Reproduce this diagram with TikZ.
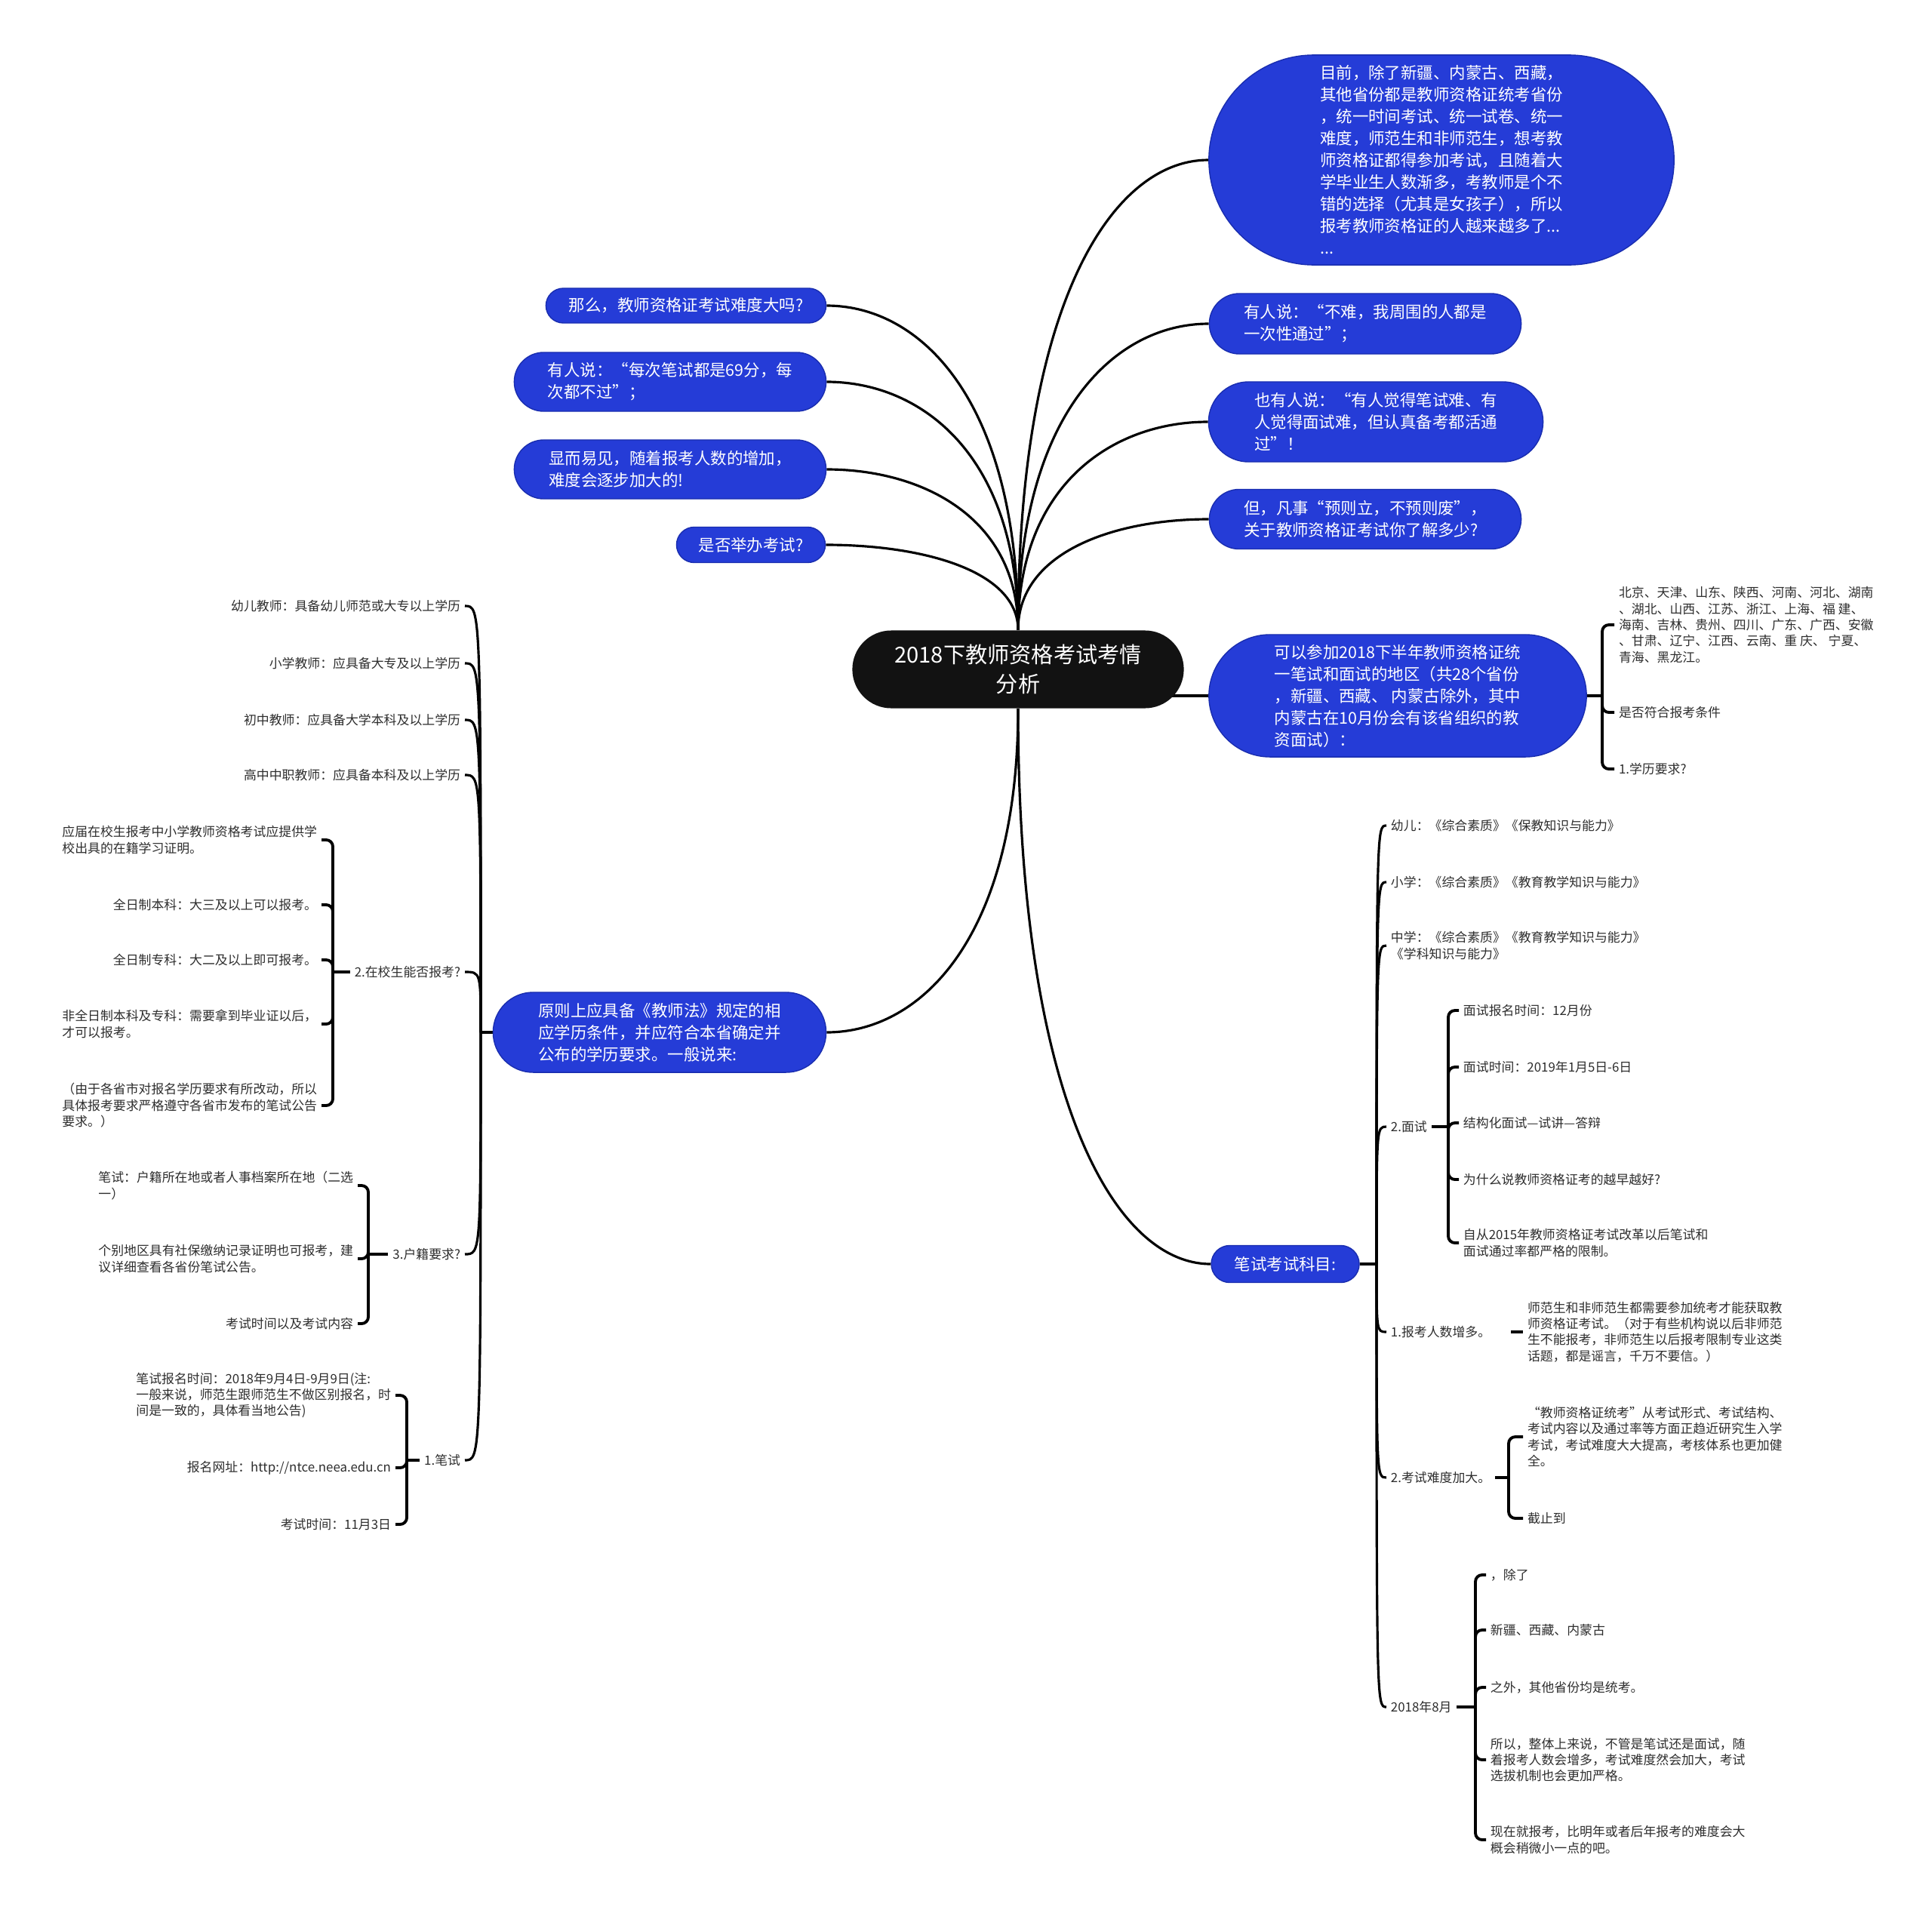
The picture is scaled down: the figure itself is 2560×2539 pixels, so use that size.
\documentclass[tikz,border=0pt]{standalone}
\usepackage{fontspec}
\setmainfont{Noto Sans CJK SC}
\usetikzlibrary{calc,shapes.misc}
\definecolor{MapBlue}{RGB}{37,60,215}
\definecolor{MapEdge}{RGB}{25,45,175}
\definecolor{MapInk}{RGB}{45,45,45}
\pgfdeclarelayer{bg}
\pgfsetlayers{bg,main}
\tikzset{
  topic/.style={rounded rectangle,fill=black!93,text=white,inner sep=0pt,align=center,font=\fontsize{8.3}{11}\selectfont},
  sub/.style={rounded rectangle,draw=MapEdge,line width=0.4pt,fill=MapBlue,text=white,inner sep=0pt,align=left,font=\fontsize{6.1}{8.25}\selectfont},
  leaf/.style={inner sep=1.5pt,align=left,text=MapInk,font=\fontsize{4.8}{6.1}\selectfont},
  link/.style={draw=black,line width=0.9pt},
  brace/.style={draw=black,line width=1.1pt,rounded corners=2.5pt},
  elbow/.style={to path={.. controls ($(\tikztostart)!0.7!(\tikztostart |- \tikztotarget)$) and ($(\tikztotarget)!0.5!(\tikztostart |- \tikztotarget)$) .. (\tikztotarget)}},
}
\begin{document}
\begin{tikzpicture}[x=0.01cm,y=-0.01cm]
\useasboundingbox (0,0) rectangle (2560,2539);
\node[topic,minimum width=4.39cm,minimum height=1.03cm] (root) at (1349,887) {2018下教师资格考试考情\\分析};
\node[sub,minimum width=6.16cm,minimum height=2.78cm] (now) at (1910,212) {目前，除了新疆、内蒙古、西藏，\\其他省份都是教师资格证统考省份\\，统一时间考试、统一试卷、统一\\难度，师范生和非师范生，想考教\\师资格证都得参加考试，且随着大\\学毕业生人数渐多，考教师是个不\\错的选择（尤其是女孩子），所以\\报考教师资格证的人越来越多了...\\...};
\node[sub,minimum width=4.13cm,minimum height=0.80cm] (easy) at (1809,429) {有人说：“不难，我周围的人都是\\一次性通过”；};
\node[sub,minimum width=4.43cm,minimum height=1.06cm] (hard) at (1823,559) {也有人说：“有人觉得笔试难、有\\人觉得面试难，但认真备考都活通\\过”！};
\node[sub,minimum width=4.13cm,minimum height=0.79cm] (ready) at (1809,688) {但，凡事“预则立，不预则废”，\\关于教师资格证考试你了解多少?};
\node[sub,minimum width=5.00cm,minimum height=1.62cm] (area) at (1852,922) {可以参加2018下半年教师资格证统\\一笔试和面试的地区（共28个省份\\，新疆、西藏、 内蒙古除外，其中\\内蒙古在10月份会有该省组织的教\\资面试）：};
\node[sub,minimum width=3.71cm,minimum height=0.46cm] (ask) at (909,405) {那么，教师资格证考试难度大吗?};
\node[sub,minimum width=4.13cm,minimum height=0.78cm] (say) at (888,506) {有人说：“每次笔试都是69分，每\\次都不过”；};
\node[sub,minimum width=4.13cm,minimum height=0.78cm] (grow) at (888,622) {显而易见，随着报考人数的增加，\\难度会逐步加大的!};
\node[sub,minimum width=1.97cm,minimum height=0.47cm] (held) at (995,722) {是否举办考试?};
\node[sub,minimum width=4.41cm,minimum height=1.06cm] (rule) at (874,1368) {原则上应具备《教师法》规定的相\\应学历条件，并应符合本省确定并\\公布的学历要求。一般说来:};
\node[sub,minimum width=1.96cm,minimum height=0.49cm] (subj) at (1703,1675) {笔试考试科目:};

\node[leaf,anchor=west] (e1) at (2139,828) {北京、天津、山东、陕西、河南、河北、湖南\\、湖北、山西、江苏、浙江、上海、福 建、\\海南、吉林、贵州、四川、广东、广西、安徽\\、甘肃、辽宁、江西、云南、重 庆、 宁夏、\\青海、黑龙江。};
\node[leaf,anchor=west] (e2) at (2139,944) {是否符合报考条件};
\node[leaf,anchor=west] (e3) at (2139,1019) {1.学历要求?};
\coordinate (je) at (2123,922);

\foreach \n/\y/\t in {kid/803/幼儿教师：具备幼儿师范或大专以上学历, pri/879/小学教师：应具备大专及以上学历, mid/954/初中教师：应具备大学本科及以上学历, high/1027/高中中职教师：应具备本科及以上学历, stu/1288/2.在校生能否报考?, hukou/1662/3.户籍要求?, writ/1935/1.笔试}
  \node[leaf,anchor=east] (\n) at (616,\y) {\t};
\coordinate (jr) at (637,1368);

\node[leaf,anchor=east] (s1) at (426,1113) {应届在校生报考中小学教师资格考试应提供学\\校出具的在籍学习证明。};
\node[leaf,anchor=east] (s2) at (426,1199) {全日制本科：大三及以上可以报考。};
\node[leaf,anchor=east] (s3) at (426,1272) {全日制专科：大二及以上即可报考。};
\node[leaf,anchor=east] (s4) at (426,1357) {非全日制本科及专科：需要拿到毕业证以后，\\才可以报考。};
\node[leaf,anchor=east] (s5) at (426,1465) {（由于各省市对报名学历要求有所改动，所以\\具体报考要求严格遵守各省市发布的笔试公告\\要求。）};
\coordinate (js) at (441,1288);

\node[leaf,anchor=east] (h1) at (474,1571) {笔试：户籍所在地或者人事档案所在地（二选\\一）};
\node[leaf,anchor=east] (h2) at (474,1668) {个别地区具有社保缴纳记录证明也可报考，建\\议详细查看各省份笔试公告。};
\node[leaf,anchor=east] (h3) at (474,1754) {考试时间以及考试内容};
\coordinate (jh) at (488,1662);

\node[leaf,anchor=east] (w1) at (524,1849) {笔试报名时间：2018年9月4日-9月9日(注:\\一般来说，师范生跟师范生不做区别报名，时\\间是一致的，具体看当地公告)};
\node[leaf,anchor=east] (w2) at (524,1945) {报名网址：http://ntce.neea.edu.cn};
\node[leaf,anchor=east] (w3) at (524,2020) {考试时间：11月3日};
\coordinate (jw) at (539,1935);

\node[leaf,anchor=west] (k1) at (1837,1094) {幼儿：《综合素质》《保教知识与能力》};
\node[leaf,anchor=west] (k2) at (1837,1169) {小学：《综合素质》《教育教学知识与能力》};
\node[leaf,anchor=west] (k3) at (1837,1253) {中学：《综合素质》《教育教学知识与能力》\\《学科知识与能力》};
\node[leaf,anchor=west] (face) at (1837,1493) {2.面试};
\node[leaf,anchor=west] (more) at (1837,1765) {1.报考人数增多。};
\node[leaf,anchor=west] (diff) at (1837,1958) {2.考试难度加大。};
\node[leaf,anchor=west] (aug) at (1837,2262) {2018年8月};
\coordinate (jk) at (1824,1675);

\node[leaf,anchor=west] (f1) at (1933,1339) {面试报名时间：12月份};
\node[leaf,anchor=west] (f2) at (1933,1414) {面试时间：2019年1月5日-6日};
\node[leaf,anchor=west] (f3) at (1933,1488) {结构化面试—试讲—答辩};
\node[leaf,anchor=west] (f4) at (1933,1563) {为什么说教师资格证考的越早越好?};
\node[leaf,anchor=west] (f5) at (1933,1647) {自从2015年教师资格证考试改革以后笔试和\\面试通过率都严格的限制。};
\coordinate (jf) at (1919,1493);

\node[leaf,anchor=west] (m1) at (2018,1765) {师范生和非师范生都需要参加统考才能获取教\\师资格证考试。（对于有些机构说以后非师范\\生不能报考，非师范生以后报考限制专业这类\\话题，都是谣言，千万不要信。）};

\node[leaf,anchor=west] (d1) at (2018,1904) {“教师资格证统考”从考试形式、考试结构、\\考试内容以及通过率等方面正趋近研究生入学\\考试，考试难度大大提高，考核体系也更加健\\全。};
\node[leaf,anchor=west] (d2) at (2018,2012) {截止到};
\coordinate (jd) at (1999,1958);

\node[leaf,anchor=west] (a1) at (1969,2087) {，除了};
\node[leaf,anchor=west] (a2) at (1969,2160) {新疆、西藏、内蒙古};
\node[leaf,anchor=west] (a3) at (1969,2236) {之外，其他省份均是统考。};
\node[leaf,anchor=west] (a4) at (1969,2332) {所以，整体上来说，不管是笔试还是面试，随\\着报考人数会增多，考试难度然会加大，考试\\选拔机制也会更加严格。};
\node[leaf,anchor=west] (a5) at (1969,2438) {现在就报考，比明年或者后年报考的难度会大\\概会稍微小一点的吧。};
\coordinate (ja) at (1955,2262);

\begin{pgfonlayer}{bg}
\foreach \n in {now,easy,hard,ready} \draw[link] (root.north) to[elbow] (\n.west);
\foreach \n in {ask,say,grow,held} \draw[link] (root.north) to[elbow] (\n.east);
\draw[link] (root.south) to[elbow] (rule.east);
\draw[link] (root.south) to[elbow] (subj.west);
\draw[link] (root.center |- area.west) -- (area.west);
\draw[brace] (area.east) -- (je);
\foreach \n in {e1,e2,e3} \draw[brace] (je) |- (\n.west);
\draw[link] (rule.west) -- (jr);
\foreach \n in {kid,pri,mid,high,stu,hukou,writ} \draw[link] (jr) .. controls (jr |- \n.east) .. (\n.east);
\draw[brace] (stu.west) -- (js);
\foreach \n in {s1,s2,s3,s4,s5} \draw[brace] (js) |- (\n.east);
\draw[brace] (hukou.west) -- (jh);
\foreach \n in {h1,h2,h3} \draw[brace] (jh) |- (\n.east);
\draw[brace] (writ.west) -- (jw);
\foreach \n in {w1,w2,w3} \draw[brace] (jw) |- (\n.east);
\draw[link] (subj.east) -- (jk);
\foreach \n in {k1,k2,k3,face,more,diff,aug} \draw[link] (jk) .. controls (jk |- \n.west) .. (\n.west);
\draw[brace] (face.east) -- (jf);
\foreach \n in {f1,f2,f3,f4,f5} \draw[brace] (jf) |- (\n.west);
\draw[brace,shorten <=6pt] (more.east) -- (m1.west);
\draw[brace] (diff.east) -- (jd);
\foreach \n in {d1,d2} \draw[brace] (jd) |- (\n.west);
\draw[brace] (aug.east) -- (ja);
\foreach \n in {a1,a2,a3,a4,a5} \draw[brace] (ja) |- (\n.west);
\end{pgfonlayer}
\end{tikzpicture}
\end{document}
